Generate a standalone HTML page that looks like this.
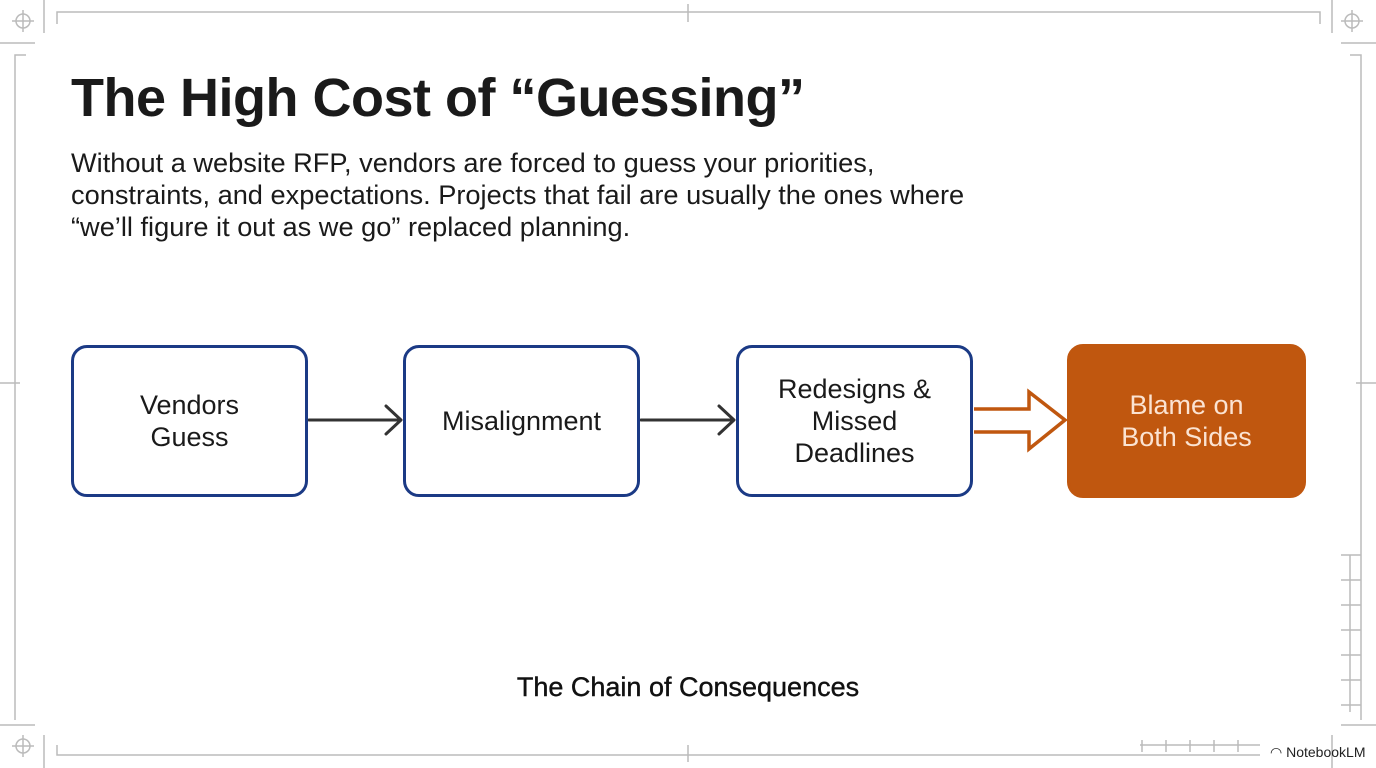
<!DOCTYPE html>
<html><head><meta charset="utf-8"><style>
body{margin:0;width:1376px;height:768px;background:#fff;position:relative;overflow:hidden;font-family:"Liberation Sans",sans-serif;color:#1a1a1a}
.t{position:absolute;white-space:nowrap}
.box{position:absolute;box-sizing:border-box;border:3px solid #1b3a85;border-radius:16px;display:flex;align-items:center;justify-content:center;text-align:center;font-size:27px;line-height:32px;color:#1a1a1a;background:#fff}
</style></head><body>
<svg width="1376" height="768" style="position:absolute;left:0;top:0" fill="none">
<g stroke="#bbb" stroke-width="1.5">
<path d="M57 24V12H1320V24"/><path d="M688 4V22"/>
<path d="M0 43H35M44 0V33M1332 0V33M1341 43H1376"/>
<path d="M26 55H15V720"/><path d="M1350 55H1361V720"/>
<path d="M0 383H20M1356 383H1376"/>
<path d="M0 725H35M44 735V768M1341 725H1376M1332 735V768"/>
<path d="M57 745V755H1260"/><path d="M688 745V762"/>
<path d="M1350 555V712M1341 555H1361M1341 580H1361M1341 605H1361M1341 630H1361M1341 655H1361M1341 680H1361M1341 705H1361"/>
<path d="M1140 745H1260M1142 740V752M1166 740V752M1190 740V752M1214 740V752M1238 740V752"/>
<circle cx="23" cy="21" r="7"/><path d="M12 21H34M23 10V32"/>
<circle cx="1352" cy="21" r="7"/><path d="M1341 21H1363M1352 10V32"/>
<circle cx="23" cy="746" r="7"/><path d="M12 746H34M23 735V757"/>
</g>
<g stroke="#333" stroke-width="3" stroke-linecap="round" stroke-linejoin="round">
<path d="M309 420H400M386 406L401 420L386 434"/>
<path d="M641 420H733M719 406L734 420L719 434"/>
</g>
<path d="M974 409H1029V392L1065 420L1029 449V432H974" stroke="#c0570f" stroke-width="3.5" stroke-linejoin="miter"/>
</svg>
<div class="t" style="left:71px;top:67px;font-size:54px;font-weight:bold;letter-spacing:-0.5px">The High Cost of “Guessing”</div>
<div class="t" style="left:71px;top:147px;font-size:27.2px;line-height:32px;color:#1a1a1a">Without a website RFP, vendors are forced to guess your priorities,<br>constraints, and expectations. Projects that fail are usually the ones where<br>“we’ll figure it out as we go” replaced planning.</div>
<div class="box" style="left:71px;top:345px;width:237px;height:152px">Vendors<br>Guess</div>
<div class="box" style="left:403px;top:345px;width:237px;height:152px">Misalignment</div>
<div class="box" style="left:736px;top:345px;width:237px;height:152px">Redesigns &amp;<br>Missed<br>Deadlines</div>
<div class="box" style="left:1067px;top:344px;width:239px;height:154px;background:#c0570f;border-color:#c0570f;color:#fbe3d2">Blame on<br>Both Sides</div>
<div class="t" style="left:0;width:1376px;text-align:center;top:672px;font-size:27px;color:#111;-webkit-text-stroke:0.4px #111">The Chain of Consequences</div>
<div class="t" style="left:1270px;top:744px;font-size:14px;color:#222">◠ NotebookLM</div>
</body></html>
